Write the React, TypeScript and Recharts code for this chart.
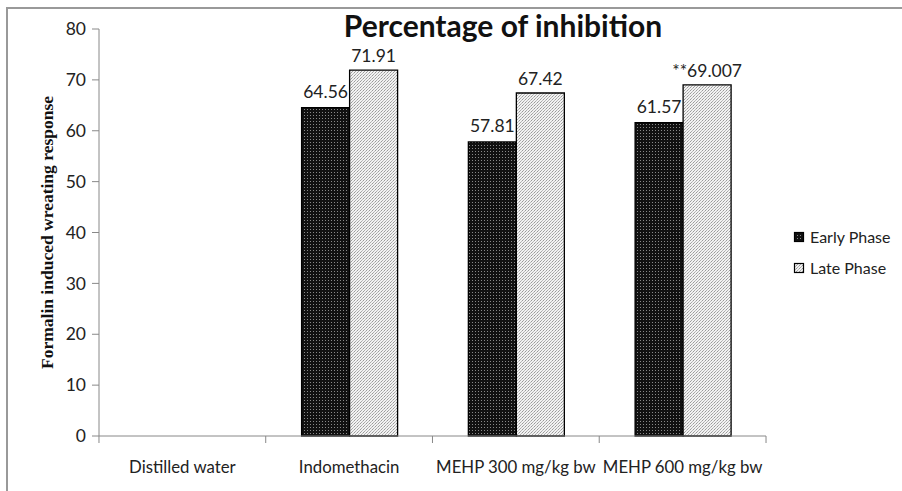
import React from 'react';
import { BarChart, Bar, XAxis, YAxis, LabelList } from 'recharts';

const groups = ['Distilled water', 'Indomethacin', 'MEHP 300 mg/kg bw', 'MEHP 600 mg/kg bw'];
const earlyPhase = [null, 64.56, 57.81, 61.57];
const latePhase = [null, 71.91, 67.42, 69.007];
const lateLabels = ['', '71.91', '67.42', '**69.007'];
const yTicks = [0, 10, 20, 30, 40, 50, 60, 70, 80];

const data = groups.map((name, i) => ({
  name,
  early: earlyPhase[i],
  late: latePhase[i],
  lateLabel: lateLabels[i],
}));

const font = 'Lato, "Open Sans", sans-serif';

// half a category band, for the boundary ticks on the x axis
const HALF_BAND = 83.4;

function XTick(props: any) {
  const { x, y, payload, index } = props;
  return (
    <g>
      <line x1={x - HALF_BAND} y1={y - 8} x2={x - HALF_BAND} y2={y - 1} stroke="#888" />
      {index === groups.length - 1 && (
        <line x1={x + HALF_BAND} y1={y - 8} x2={x + HALF_BAND} y2={y - 1} stroke="#888" />
      )}
      <text x={x} y={y + 29} textAnchor="middle" fontSize={16.8} fill="#222" fontFamily={font}>
        {payload.value}
      </text>
    </g>
  );
}

function LegendBox() {
  const items = [
    { label: 'Early Phase', fill: 'url(#earlyPat)' },
    { label: 'Late Phase', fill: 'url(#latePat)' },
  ];
  return (
    <div style={{ position: 'absolute', left: 793, top: 221, fontFamily: font, fontSize: 16, color: '#222' }}>
      {items.map((it) => (
        <div key={it.label} style={{ display: 'flex', alignItems: 'center', height: 31 }}>
          <svg width={13} height={12} style={{ marginRight: 4 }}>
            <rect x={1.5} y={1.5} width={9} height={9} fill={it.fill} stroke="#000" strokeWidth={1.2} />
          </svg>
          <span>{it.label}</span>
        </div>
      ))}
    </div>
  );
}

export default function App() {
  return (
    <div style={{ position: 'absolute', left: 0, top: 0, width: 902, height: 491, background: '#fff' }}>
      <div
        style={{
          position: 'absolute',
          left: 6,
          top: 7,
          width: 900,
          height: 490,
          borderLeft: '2px solid #999',
          borderTop: '2px solid #999',
        }}
      />
      <BarChart
        width={902}
        height={491}
        data={data}
        margin={{ top: 29, right: 136, bottom: 0, left: 0 }}
        barGap={0}
        barCategoryGap="21.5%"
      >
        <defs>
          <pattern id="earlyPat" width={3} height={3} patternUnits="userSpaceOnUse">
            <rect width={3} height={3} fill="#111" />
            <rect x={1} y={1} width={1} height={1} fill="#888" />
          </pattern>
          <pattern id="latePat" width={3} height={3} patternUnits="userSpaceOnUse">
            <rect width={3} height={3} fill="#f2f2f2" />
            <rect x={0} y={0} width={1} height={1} fill="#999" />
            <rect x={2} y={1} width={1} height={1} fill="#bbb" />
            <rect x={1} y={2} width={1} height={1} fill="#aaa" />
          </pattern>
        </defs>
        <XAxis
          dataKey="name"
          height={55}
          stroke="#888"
          tickLine={false}
          tick={<XTick />}
          interval={0}
        />
        <YAxis
          width={99}
          domain={[0, 80]}
          ticks={yTicks}
          stroke="#888"
          tickSize={7}
          tick={{ fontSize: 17.5, fill: '#222', fontFamily: font }}
          tickMargin={6}
          label={{
            value: 'Formalin induced wreating response',
            angle: -90,
            position: 'insideLeft',
            dx: 42,
            style: {
              fontFamily: '"Liberation Serif", "Times New Roman", serif',
              fontWeight: 700,
              fontSize: 17.5,
              fill: '#111',
              textAnchor: 'middle',
            },
          }}
        />
        <Bar dataKey="early" name="Early Phase" fill="url(#earlyPat)" stroke="#000" strokeWidth={1.3} isAnimationActive={false}>
          <LabelList dataKey="early" position="top" offset={10} style={{ fontSize: 17.5, fill: '#222', fontFamily: font }} />
        </Bar>
        <Bar dataKey="late" name="Late Phase" fill="url(#latePat)" stroke="#000" strokeWidth={1.3} isAnimationActive={false}>
          <LabelList dataKey="lateLabel" position="top" offset={8} style={{ fontSize: 17.5, fill: '#222', fontFamily: font }} />
        </Bar>
      </BarChart>
      <div
        style={{
          position: 'absolute',
          left: 340,
          width: 326,
          top: 9,
          textAlign: 'center',
          fontFamily: font,
          fontWeight: 700,
          fontSize: 30,
          lineHeight: '32px',
          color: '#111',
          whiteSpace: 'nowrap',
        }}
      >
        Percentage of inhibition
      </div>
      <LegendBox />
    </div>
  );
}
